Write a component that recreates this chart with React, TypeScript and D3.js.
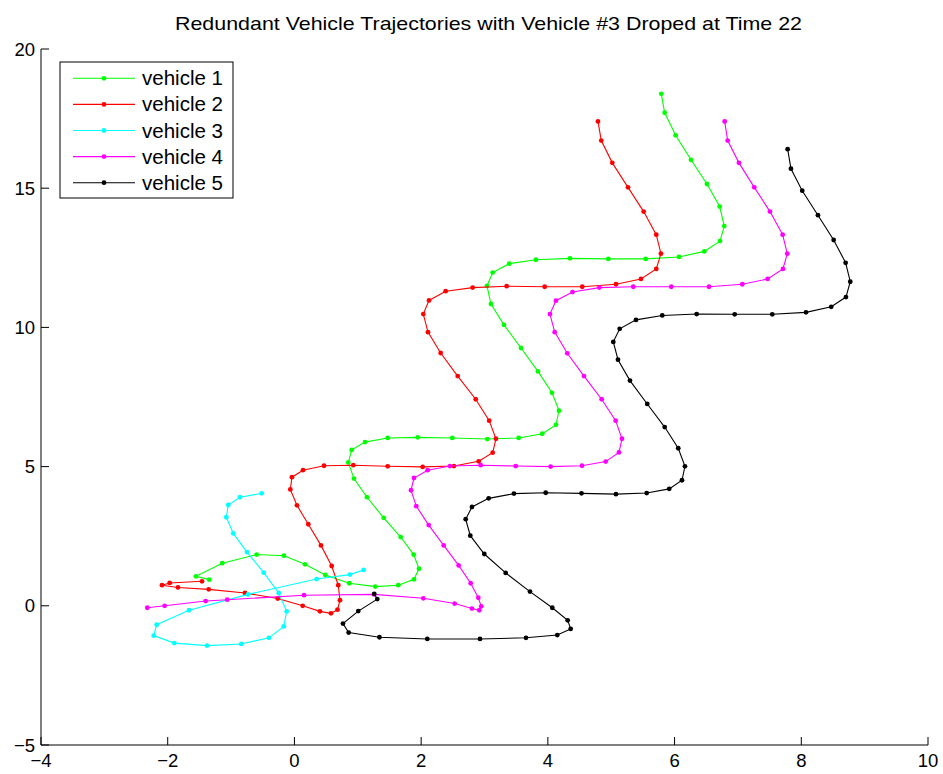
import React from "react";
import * as d3 from "d3";

const xTicks = [-4, -2, 0, 2, 4, 6, 8, 10];
const yTicks = [-5, 0, 5, 10, 15, 20];
const seriesNames = ["vehicle 1", "vehicle 2", "vehicle 3", "vehicle 4", "vehicle 5"];
const seriesColors = ["#00ff00", "#ff0000", "#00ffff", "#ff00ff", "#000000"];

const vehicle1: [number, number][] = [
  [-1.344, 0.94], [-1.554, 1.06], [-1.139, 1.53], [-0.596, 1.84], [-0.165, 1.8], [0.167, 1.49],
  [0.487, 1.11], [0.866, 0.81], [1.276, 0.69], [1.639, 0.74], [1.887, 0.95], [1.966, 1.33],
  [1.882, 1.84], [1.677, 2.47], [1.409, 3.16], [1.145, 3.9], [0.94, 4.57], [0.85, 5.15],
  [0.904, 5.6], [1.114, 5.88], [1.472, 6.03], [1.945, 6.05], [2.492, 6.03], [3.044, 5.99],
  [3.539, 6.03], [3.912, 6.18], [4.128, 6.5], [4.176, 7.01], [4.065, 7.65], [3.844, 8.42],
  [3.576, 9.26], [3.307, 10.09], [3.102, 10.84], [3.039, 11.49], [3.129, 11.97], [3.391, 12.29],
  [3.812, 12.43], [4.349, 12.48], [4.954, 12.46], [5.544, 12.46], [6.07, 12.53], [6.469, 12.73],
  [6.717, 13.1], [6.784, 13.64], [6.712, 14.34], [6.511, 15.15], [6.259, 16.02], [6.017, 16.9],
  [5.844, 17.71], [5.79, 18.39],
];

const vehicle2: [number, number][] = [
  [-1.459, 0.88], [-1.969, 0.82], [-2.09, 0.74], [-1.838, 0.66], [-1.353, 0.59], [-0.78, 0.46],
  [-0.264, 0.26], [0.13, 0.0], [0.403, -0.2], [0.577, -0.27], [0.68, -0.14], [0.719, 0.2],
  [0.692, 0.74], [0.588, 1.43], [0.419, 2.17], [0.219, 2.93], [0.04, 3.61], [-0.065, 4.18],
  [-0.039, 4.62], [0.135, 4.87], [0.467, 5.03], [0.929, 5.05], [1.472, 5.01], [2.024, 4.99],
  [2.518, 5.02], [2.908, 5.19], [3.129, 5.5], [3.181, 6.0], [3.074, 6.65], [2.861, 7.42],
  [2.577, 8.25], [2.308, 9.08], [2.108, 9.83], [2.034, 10.48], [2.124, 10.97], [2.387, 11.3],
  [2.813, 11.43], [3.35, 11.48], [3.95, 11.46], [4.543, 11.46], [5.075, 11.55], [5.47, 11.74],
  [5.711, 12.1], [5.785, 12.65], [5.711, 13.33], [5.512, 14.16], [5.265, 15.03], [5.017, 15.91],
  [4.843, 16.71], [4.791, 17.4],
];

const vehicle3: [number, number][] = [
  [-0.517, 4.04], [-0.859, 3.9], [-1.044, 3.62], [-1.075, 3.18], [-0.965, 2.6], [-0.749, 1.93],
  [-0.485, 1.19], [-0.248, 0.46], [-0.122, -0.2], [-0.168, -0.74], [-0.402, -1.15], [-0.839, -1.37],
  [-1.38, -1.43], [-1.896, -1.34], [-2.221, -1.07], [-2.174, -0.68], [-1.664, -0.16], [-0.733, 0.41],
  [0.351, 0.96], [0.877, 1.12], [1.093, 1.29],
];

const vehicle4: [number, number][] = [
  [-2.322, -0.07], [-2.048, 0.0], [-1.401, 0.17], [-1.06, 0.22], [0.151, 0.38], [1.256, 0.41],
  [2.034, 0.27], [2.529, 0.08], [2.802, -0.1], [2.918, -0.16], [2.949, -0.02], [2.902, 0.29],
  [2.782, 0.81], [2.592, 1.45], [2.356, 2.17], [2.119, 2.9], [1.923, 3.58], [1.84, 4.15],
  [1.887, 4.59], [2.103, 4.87], [2.455, 5.02], [2.94, 5.05], [3.492, 5.02], [4.044, 5.0],
  [4.539, 5.03], [4.913, 5.18], [5.122, 5.51], [5.17, 6.0], [5.07, 6.65], [4.849, 7.42],
  [4.57, 8.25], [4.307, 9.07], [4.108, 9.83], [4.033, 10.48], [4.128, 10.96], [4.389, 11.27],
  [4.812, 11.43], [5.348, 11.46], [5.948, 11.46], [6.543, 11.46], [7.069, 11.55], [7.469, 11.74],
  [7.711, 12.1], [7.779, 12.65], [7.706, 13.33], [7.506, 14.16], [7.258, 15.03], [7.016, 15.91],
  [6.838, 16.71], [6.791, 17.4],
];

const vehicle5: [number, number][] = [
  [1.26, 0.43], [1.308, 0.24], [1.008, -0.19], [0.766, -0.64], [0.856, -0.96], [1.342, -1.13],
  [2.097, -1.19], [2.929, -1.19], [3.655, -1.15], [4.149, -1.05], [4.36, -0.83], [4.313, -0.52],
  [4.07, -0.07], [3.718, 0.51], [3.334, 1.18], [2.997, 1.86], [2.776, 2.52], [2.703, 3.11],
  [2.802, 3.55], [3.066, 3.86], [3.465, 4.03], [3.966, 4.06], [4.531, 4.04], [5.075, 4.01],
  [5.56, 4.05], [5.916, 4.2], [6.117, 4.51], [6.164, 5.01], [6.058, 5.66], [5.844, 6.42],
  [5.569, 7.25], [5.296, 8.09], [5.107, 8.84], [5.033, 9.48], [5.134, 9.95], [5.391, 10.27],
  [5.806, 10.43], [6.349, 10.48], [6.949, 10.47], [7.542, 10.47], [8.074, 10.54], [8.473, 10.74],
  [8.705, 11.09], [8.773, 11.64], [8.7, 12.32], [8.511, 13.14], [8.263, 14.03], [8.015, 14.91],
  [7.837, 15.7], [7.785, 16.4],
];

const allSeries = [vehicle1, vehicle2, vehicle3, vehicle4, vehicle5];

const W = 943;
const H = 774;
const left = 41;
const right = 928;
const top = 49;
const bottom = 745;

export default function App() {
  const x = d3.scaleLinear().domain([-4, 10]).range([left, right]);
  const y = d3.scaleLinear().domain([-5, 20]).range([bottom, top]);
  const line = d3
    .line<[number, number]>()
    .x((d) => x(d[0]))
    .y((d) => y(d[1]));
  const font = "'Liberation Sans', Arial, Helvetica, sans-serif";
  const tickLen = 8;

  const legX = 60;
  const legY = 62;
  const legW = 173;
  const legH = 136;
  const rowH = 26.1;

  return (
    <svg
      width={W}
      height={H}
      style={{ position: "absolute", left: 0, top: 0, background: "#fff" }}
      fontFamily={font}
    >
      <rect x={0} y={0} width={W} height={H} fill="#fff" />
      <text
        x={488.5}
        y={30}
        fontSize={19}
        textAnchor="middle"
        fill="#000"
        textLength={627}
        lengthAdjust="spacingAndGlyphs"
      >
        Redundant Vehicle Trajectories with Vehicle #3 Droped at Time 22
      </text>

      {allSeries.map((s, i) => (
        <g key={i}>
          <path d={line(s) || ""} fill="none" stroke={seriesColors[i]} strokeWidth={1.1} />
          {s.map((d, j) => (
            <circle key={j} cx={x(d[0])} cy={y(d[1])} r={2.4} fill={seriesColors[i]} />
          ))}
        </g>
      ))}

      {/* axes */}
      <line x1={left} x2={right} y1={bottom} y2={bottom} stroke="#000" strokeWidth={1} />
      <line x1={left} x2={left} y1={top} y2={bottom} stroke="#000" strokeWidth={1} />
      {xTicks.map((t) => (
        <g key={"x" + t}>
          <line x1={x(t)} x2={x(t)} y1={bottom} y2={bottom - tickLen} stroke="#000" />
          <text x={x(t)} y={767} fontSize={18.5} textAnchor="middle" fill="#000">
            {t < 0 ? "\u2212" + Math.abs(t) : String(t)}
          </text>
        </g>
      ))}
      {yTicks.map((t) => (
        <g key={"y" + t}>
          <line x1={left} x2={left + tickLen} y1={y(t)} y2={y(t)} stroke="#000" />
          <text x={left - 6} y={y(t) + 6.5} fontSize={18.5} textAnchor="end" fill="#000">
            {t < 0 ? "\u2212" + Math.abs(t) : String(t)}
          </text>
        </g>
      ))}

      {/* legend */}
      <rect x={legX} y={legY} width={legW} height={legH} fill="#fff" stroke="#000" strokeWidth={1} />
      {seriesNames.map((n, i) => {
        const cy = legY + 16.3 + i * rowH;
        return (
          <g key={n}>
            <line x1={73} x2={135} y1={cy} y2={cy} stroke={seriesColors[i]} strokeWidth={1.1} />
            <circle cx={104} cy={cy} r={2.4} fill={seriesColors[i]} />
            <text x={142} y={cy + 7} fontSize={20} fill="#000" textLength={81} lengthAdjust="spacingAndGlyphs">
              {n}
            </text>
          </g>
        );
      })}
    </svg>
  );
}
